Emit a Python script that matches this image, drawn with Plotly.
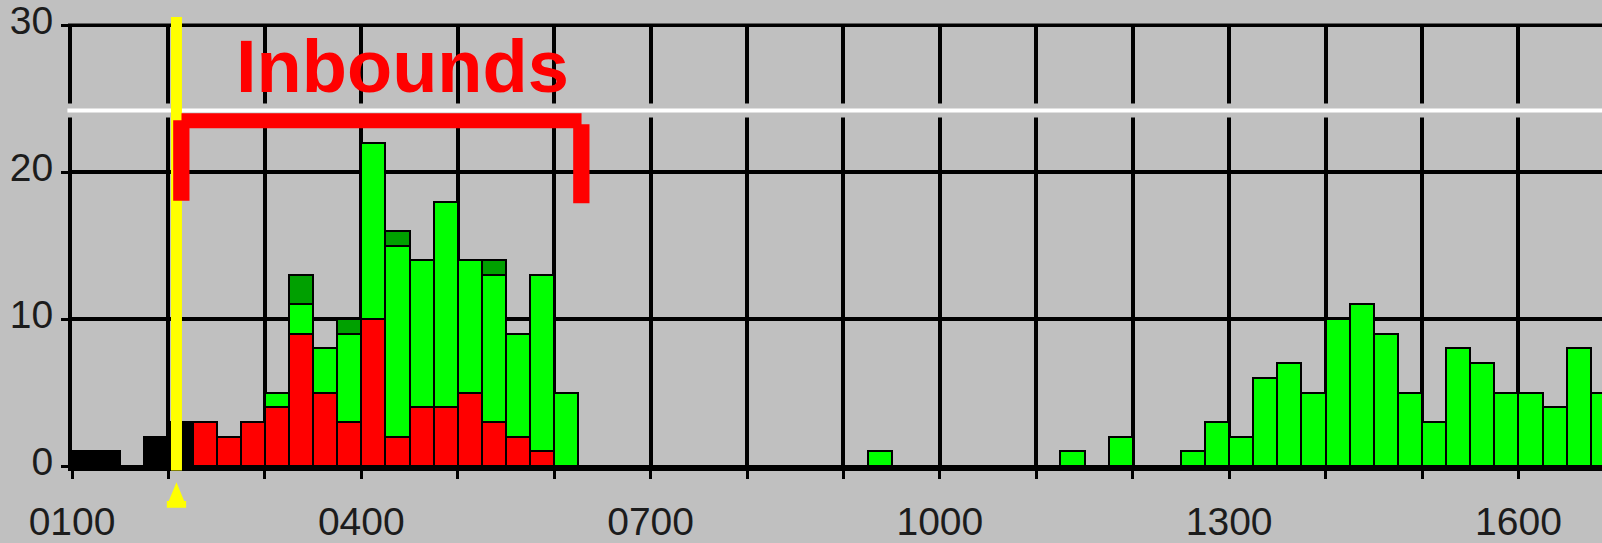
import plotly.graph_objects as go

# ---------------- data (15-minute bins) ----------------
bins = ["0100", "0115", "0130", "0145", "0200", "0215", "0230", "0245",
        "0300", "0315", "0330", "0345", "0400", "0415", "0430", "0445",
        "0500", "0515", "0530", "0545", "0600", "0615", "0630", "0645",
        "0700", "0715", "0730", "0745", "0800", "0815", "0830", "0845",
        "0900", "0915", "0930", "0945", "1000", "1015", "1030", "1045",
        "1100", "1115", "1130", "1145", "1200", "1215", "1230", "1245",
        "1300", "1315", "1330", "1345", "1400", "1415", "1430", "1445",
        "1500", "1515", "1530", "1545", "1600", "1615", "1630", "1645"]

black = [1, 1, 0, 2, 3, 0, 0, 0,
         0, 0, 0, 0, 0, 0, 0, 0,
         0, 0, 0, 0, 0, 0, 0, 0,
         0, 0, 0, 0, 0, 0, 0, 0,
         0, 0, 0, 0, 0, 0, 0, 0,
         0, 0, 0, 0, 0, 0, 0, 0,
         0, 0, 0, 0, 0, 0, 0, 0,
         0, 0, 0, 0, 0, 0, 0, 0]

red = [0, 0, 0, 0, 0, 3, 2, 3,
       4, 9, 5, 3, 10, 2, 4, 4,
       5, 3, 2, 1, 0, 0, 0, 0,
       0, 0, 0, 0, 0, 0, 0, 0,
       0, 0, 0, 0, 0, 0, 0, 0,
       0, 0, 0, 0, 0, 0, 0, 0,
       0, 0, 0, 0, 0, 0, 0, 0,
       0, 0, 0, 0, 0, 0, 0, 0]

green = [0, 0, 0, 0, 0, 0, 0, 0,
         1, 2, 3, 6, 12, 13, 10, 14,
         9, 10, 7, 12, 5, 0, 0, 0,
         0, 0, 0, 0, 0, 0, 0, 0,
         0, 1, 0, 0, 0, 0, 0, 0,
         0, 1, 0, 2, 0, 0, 1, 3,
         2, 6, 7, 5, 10, 11, 9, 5,
         3, 8, 7, 5, 5, 4, 8, 5]

dark_green = [0, 0, 0, 0, 0, 0, 0, 0,
              0, 2, 0, 1, 0, 1, 0, 0,
              0, 1, 0, 0, 0, 0, 0, 0,
              0, 0, 0, 0, 0, 0, 0, 0,
              0, 0, 0, 0, 0, 0, 0, 0,
              0, 0, 0, 0, 0, 0, 0, 0,
              0, 0, 0, 0, 0, 0, 0, 0,
              0, 0, 0, 0, 0, 0, 0, 0]

x_tick_labels = ["0100", "0400", "0700", "1000", "1300", "1600"]
y_tick_values = [0, 10, 20, 30]
threshold_value = 24.2
marker_time = "0205"
bracket_start = "0205"
bracket_end = "0612"
label_text = "Inbounds"

# ---------------- helpers ----------------
def hours(t):
    return int(t[:2]) + int(t[2:]) / 60.0

BIN = 0.25
xc = [hours(t) + BIN / 2 for t in bins]
x_tick_vals = [hours(t) for t in x_tick_labels]

BG = "#C0C0C0"
LINE = "#000000"

fig = go.Figure()
for vals, col in [(black, "#000000"), (red, "#FF0000"),
                  (green, "#00FF00"), (dark_green, "#00A000")]:
    fig.add_trace(go.Bar(
        x=xc, y=vals, width=BIN,
        marker=dict(color=col, line=dict(color=LINE, width=2.5)),
        showlegend=False, hoverinfo="skip"))

PX_PER_HOUR = 96.43
PLOT_W = 1530
x_lo = hours("0100")
x_hi = x_lo + PLOT_W / PX_PER_HOUR
y_max = max(y_tick_values)
y_top = y_max + 0.5   # headroom so the top grid line / label are drawn

tick_font = dict(family="Liberation Sans, Arial, sans-serif", size=39, color="#1c1c1c")

fig.update_layout(
    width=1602, height=543,
    margin=dict(l=72, r=0, t=18, b=77, pad=0),
    paper_bgcolor=BG, plot_bgcolor=BG,
    barmode="stack", bargap=0,
    xaxis=dict(
        range=[x_lo, x_hi], tickmode="array",
        tickvals=x_tick_vals, ticktext=x_tick_labels,
        showgrid=True, gridcolor=LINE, gridwidth=3.5,
        ticks="outside", ticklen=8, tickwidth=3, tickcolor=LINE,
        minor=dict(tick0=x_lo, dtick=1, showgrid=True, gridcolor=LINE, gridwidth=3.5,
                   ticks="outside", ticklen=8, tickwidth=3, tickcolor=LINE),
        showline=True, linecolor=LINE, linewidth=5,
        zeroline=False, tickfont=tick_font, ticklabelstandoff=9,
        automargin=False, ticklabeloverflow="allow",
    ),
    yaxis=dict(
        range=[0, y_top], tickmode="array", tickvals=y_tick_values,
        showgrid=True, gridcolor=LINE, gridwidth=3.5,
        ticks="outside", ticklen=7, tickwidth=3, tickcolor=LINE,
        showline=True, linecolor=LINE, linewidth=4,
        zeroline=False, tickfont=tick_font, ticklabelstandoff=0,
        ticklabelshift=-5, automargin=False, ticklabeloverflow="allow",
    ),
)

# cover the headroom above the top grid line
fig.add_shape(type="rect", xref="paper", yref="y", x0=-0.004, x1=1.0,
              y0=y_max + 0.13, y1=y_top + 0.1, fillcolor=BG, line=dict(width=0),
              layer="above")

# threshold line with grey halo
fig.add_shape(type="line", xref="paper", yref="y", x0=-0.003, x1=1,
              y0=threshold_value, y1=threshold_value,
              line=dict(color=BG, width=14), layer="above")
fig.add_shape(type="line", xref="paper", yref="y", x0=-0.003, x1=1,
              y0=threshold_value, y1=threshold_value,
              line=dict(color="#FFFFFF", width=4), layer="above")

# yellow time cursor
ym = hours(marker_time)
fig.add_shape(type="line", xref="x", yref="paper", x0=ym, x1=ym,
              y0=-0.01, y1=1.002, line=dict(color="#FFFF00", width=11), layer="above")
fig.add_shape(type="path", xref="x", yref="paper",
              path=(f"M {ym:.4f} -0.036 L {ym+0.08:.4f} -0.078 L {ym+0.10:.4f} -0.078 "
                    f"L {ym+0.10:.4f} -0.093 L {ym-0.10:.4f} -0.093 L {ym-0.10:.4f} -0.078 "
                    f"L {ym-0.08:.4f} -0.078 Z"),
              fillcolor="#FFFF00", line=dict(width=0), layer="above")

# red bracket
bs, be = hours(bracket_start), hours(bracket_end)
RED = "#FF0000"
fig.add_shape(type="rect", xref="x", yref="y", x0=bs + 0.052, x1=be + 0.084,
              y0=22.99, y1=24.01, fillcolor=RED, line=dict(width=0), layer="above")
fig.add_shape(type="rect", xref="x", yref="y", x0=bs - 0.034, x1=bs + 0.135,
              y0=18.05, y1=23.54, fillcolor=RED, line=dict(width=0), layer="above")
fig.add_shape(type="rect", xref="x", yref="y", x0=be - 0.0025, x1=be + 0.1665,
              y0=17.89, y1=23.27, fillcolor=RED, line=dict(width=0), layer="above")

fig.add_annotation(text=label_text, xref="x", yref="y", x=4.43, y=27.2,
                   showarrow=False, xanchor="center", yanchor="middle",
                   font=dict(family="Liberation Sans, Arial, sans-serif", size=74,
                             color=RED, weight="bold"))

fig.write_html("out.html", config={"displayModeBar": False},
               post_script="document.body.style.margin='0';document.body.style.overflow='hidden';")
